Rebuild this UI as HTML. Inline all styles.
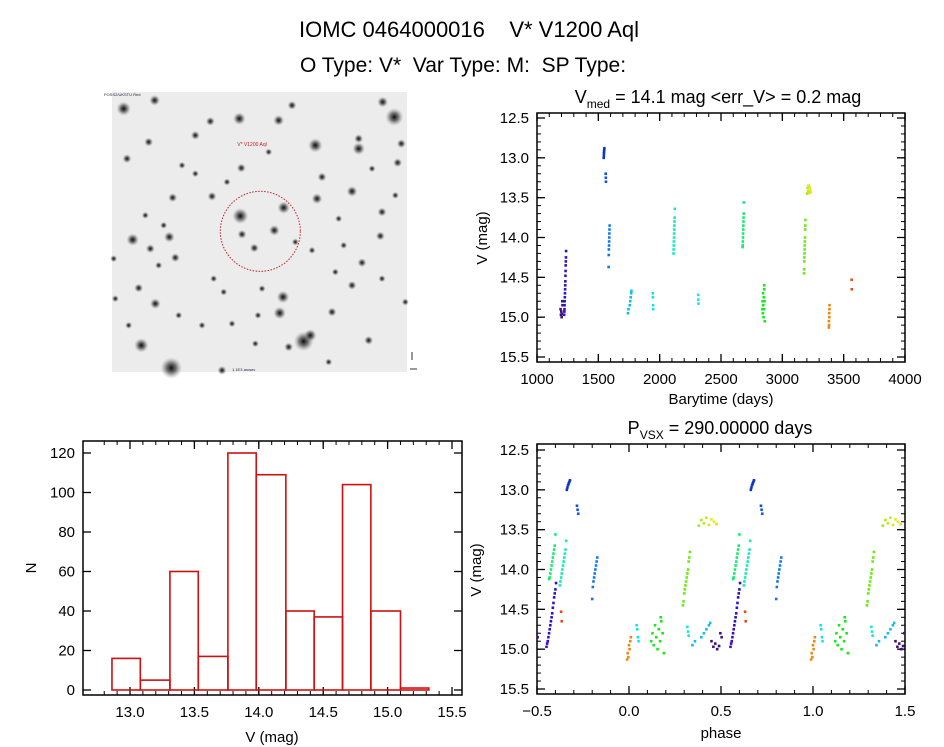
<!DOCTYPE html>
<html><head><meta charset="utf-8"><style>
html,body{margin:0;padding:0;background:#fff;}
svg{display:block;font-family:"Liberation Sans",sans-serif;}
</style></head><body>
<svg id="fig" width="944" height="747" viewBox="0 0 944 747">
<text x="469" y="37" font-size="22" text-anchor="middle" xml:space="preserve">IOMC 0464000016    V* V1200 Aql</text>
<text x="463" y="72" font-size="21" text-anchor="middle" xml:space="preserve">O Type: V*  Var Type: M:  SP Type:</text>
<g id="img"></g>
<g id="lc"></g>
<g id="hist"></g>
<g id="ph"></g>
</svg>
<script>
// ---- light curve data ----
const times = [1192,1195,1198,1201,1204,1206,1208,
 1222,1223,1224,1225,1226,1227,1228,1229,1230,1231,1232,1233,1234,1235,1236,1237,
 1544,1545,1546,1547,1548,1549,
 1560,1561,1562,
 1584,1585,1586,1587,1588,1589,1590,1591,1592,
 1742,1746,1756,1760,1764,1768,1770,
 1944,1945,1946,1947,
 2113,2114,2115,2116,2117,2118,2119,2120,2121,2122,2123,
 2314,2315,2316,
 2676,2677,2678,2679,2680,2681,2682,2683,2684,2685,2686,
 2837,2839,2841,2843,2845,2847,2849,2851,2853,2855,2857,2852,
 3177,3178,3179,3180,3181,3182,3183,3184,3185,3186,3187,3188,
 3202,3206,3210,3214,3218,3222,3226,3230,
 3379,3380,3381,3382,3383,3384,3385,
 3565,3566];
const mags = [14.9,14.97,14.93,15.0,14.96,14.8,14.85,
 14.97,14.93,14.9,14.85,14.8,14.75,14.7,14.65,14.6,14.55,14.48,14.42,14.35,14.3,14.25,14.17,
 13.0,12.97,12.94,12.92,12.9,12.88,
 13.2,13.25,13.3,
 14.37,14.22,14.15,14.1,14.05,14.0,13.95,13.9,13.85,
 14.95,14.9,14.85,14.8,14.75,14.7,14.67,
 14.7,14.75,14.85,14.9,
 14.2,14.15,14.1,14.05,14.0,13.95,13.9,13.85,13.8,13.75,13.64,
 14.72,14.78,14.83,
 14.12,14.1,14.05,14.0,13.95,13.9,13.85,13.8,13.75,13.7,13.56,
 14.9,14.8,14.95,14.7,14.85,15.0,14.75,14.9,14.65,14.8,15.05,14.6,
 14.45,14.4,14.3,14.25,14.2,14.15,14.1,14.05,14.0,13.9,13.85,13.78,
 13.45,13.38,13.42,13.35,13.44,13.37,13.4,13.43,
 15.13,15.05,15.1,14.95,15.0,14.9,14.85,
 14.53,14.65];
const period = 290.0;
const epoch = 1352;
// ---- histogram data ----
const binEdges = [12.86,13.08,13.31,13.53,13.76,13.98,14.21,14.43,14.65,14.87,15.10,15.32];
const binCounts = [16,5,60,17,120,109,40,37,104,40,1];
const lcXTicks = [1000,1500,2000,2500,3000,3500,4000];
const magTicks = [12.5,13.0,13.5,14.0,14.5,15.0,15.5];
const phTicks = [-0.5,0.0,0.5,1.0,1.5];
const hXTicks = [13.0,13.5,14.0,14.5,15.0,15.5];
const hYTicks = [0,20,40,60,80,100,120];

const NS="http://www.w3.org/2000/svg";
function mk(tag,attrs,parent,txt){const e=document.createElementNS(NS,tag);for(const k in attrs)e.setAttribute(k,attrs[k]);if(txt!==undefined)e.textContent=txt;parent.appendChild(e);return e;}
function lin(d0,d1,r0,r1){return v=>r0+(v-d0)/(d1-d0)*(r1-r0);}

function colorFor(t){
  const stops=[[1190,265],[1237,250],[1550,228],[1592,210],[1770,192],[1947,182],[2123,165],[2316,175],[2686,145],[2857,120],[3188,95],[3230,55],[3385,32],[3566,15]];
  if(t<=1210)return "hsl(265,75%,28%)";
  for(let i=1;i<stops.length;i++){if(t<=stops[i][0]){const a=stops[i-1],b=stops[i];const h=a[1]+(t-a[0])/(b[0]-a[0])*(b[1]-a[1]);const l=t<1560?42:50;return `hsl(${h},85%,${l}%)`;}}
  return "hsl(15,80%,45%)";
}

function axes(g,box,xs,ys,xt,yt,xmin,ymin,fmtx,fmty,name){
  const fr=mk('rect',{x:box.x0,y:box.y0,width:box.x1-box.x0,height:box.y1-box.y0,fill:'none',stroke:'#000','stroke-width':1.5},g);
  
  
  for(const v of xt){const x=xs(v);
    mk('line',{x1:x,x2:x,y1:box.y1,y2:box.y1-8,stroke:'#000','stroke-width':1.3},g);
    mk('line',{x1:x,x2:x,y1:box.y0,y2:box.y0+8,stroke:'#000','stroke-width':1.3},g);
    const t=mk('text',{x:x,y:box.y1+22,'font-size':15,'text-anchor':'middle'},g,fmtx(v));
    
    }
  for(const v of xmin){const x=xs(v);
    mk('line',{x1:x,x2:x,y1:box.y1,y2:box.y1-4,stroke:'#000'},g);
    mk('line',{x1:x,x2:x,y1:box.y0,y2:box.y0+4,stroke:'#000'},g);}
  for(const v of yt){const y=ys(v);
    mk('line',{x1:box.x0,x2:box.x0+8,y1:y,y2:y,stroke:'#000','stroke-width':1.3},g);
    mk('line',{x1:box.x1,x2:box.x1-8,y1:y,y2:y,stroke:'#000','stroke-width':1.3},g);
    const t=mk('text',{x:box.x0-8,y:y+5,'font-size':15,'text-anchor':'end'},g,fmty(v));
    
    }
  for(const v of ymin){const y=ys(v);
    mk('line',{x1:box.x0,x2:box.x0+4,y1:y,y2:y,stroke:'#000'},g);
    mk('line',{x1:box.x1,x2:box.x1-4,y1:y,y2:y,stroke:'#000'},g);}
}
function range(a,b,s){const r=[];for(let v=a;v<=b+1e-9;v+=s)r.push(+v.toFixed(4));return r;}

// ---- light curve ----
(function(){
  const g=document.getElementById('lc');
  const box={x0:537,x1:905,y0:113,y1:362};
  const xs=lin(1000,4000,537,905), ys=lin(12.5,15.5,118,357);
  axes(g,box,xs,ys,lcXTicks,magTicks,range(1000,4000,100),range(12.5,15.5,0.1),v=>v,v=>v.toFixed(1),'lc');
  for(let i=0;i<times.length;i++){
    const p=mk('rect',{x:xs(times[i])-1.3,y:ys(mags[i])-1.3,width:2.6,height:2.6,fill:colorFor(times[i])},g);
    
    
  }
  const t=mk('text',{x:718,y:103,'font-size':18,'text-anchor':'middle'},g);
  
  
  t.innerHTML='V<tspan font-size="12" dy="5">med</tspan><tspan dy="-5"> = 14.1 mag &lt;err_V&gt; = 0.2 mag</tspan>';
  const xl=mk('text',{x:721,y:404,'font-size':15,'text-anchor':'middle'},g,'Barytime (days)');
  
  
  const yl=mk('text',{x:0,y:0,'font-size':15,'text-anchor':'middle',transform:'translate(487,238) rotate(-90)'},g,'V (mag)');
  
  
})();

// ---- phase ----
(function(){
  const g=document.getElementById('ph');
  const box={x0:537,x1:905,y0:444,y1:694};
  const xs=lin(-0.5,1.5,537,905), ys=lin(12.5,15.5,450,689);
  axes(g,box,xs,ys,phTicks,magTicks,range(-0.5,1.5,0.1),range(12.5,15.5,0.1),v=>v.toFixed(1).replace('-','\u2212'),v=>v.toFixed(1),'ph');
  for(let i=0;i<times.length;i++){
    let ph=((times[i]-epoch)/period)%1; if(ph<0)ph+=1;
    for(const s of [-1,0,1]){const p2=ph+s; if(p2<-0.5||p2>1.5)continue;
      const p=mk('rect',{x:xs(p2)-1.3,y:ys(mags[i])-1.3,width:2.6,height:2.6,fill:colorFor(times[i])},g);
      
      }
  }
  const t=mk('text',{x:720,y:434,'font-size':18,'text-anchor':'middle'},g);
  
  
  t.innerHTML='P<tspan font-size="12" dy="5">VSX</tspan><tspan dy="-5"> = 290.00000 days</tspan>';
  const xl=mk('text',{x:721,y:738,'font-size':15,'text-anchor':'middle'},g,'phase');
  
  
  const yl=mk('text',{x:0,y:0,'font-size':15,'text-anchor':'middle',transform:'translate(481,570) rotate(-90)'},g,'V (mag)');
  
  
})();

// ---- histogram ----
(function(){
  const g=document.getElementById('hist');
  const box={x0:83,x1:462,y0:441,y1:695};
  const xs=lin(13.0,15.5,130,452), ys=lin(0,120,690,453);
  axes(g,box,xs,ys,hXTicks,hYTicks,range(12.8,15.5,0.1),[],v=>v.toFixed(1),v=>v,'hist');
  for(let i=0;i<binCounts.length;i++){
    const x0=xs(binEdges[i]),x1=xs(binEdges[i+1]);
    const r=mk('rect',{x:x0,y:ys(binCounts[i]),width:x1-x0,height:ys(0)-ys(binCounts[i]),fill:'none',stroke:'#d01010','stroke-width':1.6},g);
    
    
  }
  const xl=mk('text',{x:272,y:742,'font-size':15,'text-anchor':'middle'},g,'V (mag)');
  
  
  const yl=mk('text',{x:0,y:0,'font-size':15,'text-anchor':'middle',transform:'translate(36,568) rotate(-90)'},g,'N');
  
  
})();

// ---- sky image ----
(function(){
  const g=document.getElementById('img');
  const X0=112,Y0=92;
  const defs=mk('defs',{},g);
  const grad=mk('radialGradient',{id:'star'},defs);
  mk('stop',{offset:'0%','stop-color':'#000','stop-opacity':0.95},grad);
  mk('stop',{offset:'45%','stop-color':'#222','stop-opacity':0.6},grad);
  mk('stop',{offset:'100%','stop-color':'#888','stop-opacity':0},grad);
  const bg=mk('rect',{x:X0,y:Y0,width:295,height:280,fill:'#ececec'},g);
  
  
  const stars=[[85,70,8],[178,45,6],[432,100,7],[550,105,6],[590,60,5],[862,50,6],[897,95,10],[660,180,8],[790,190,7],[790,160,5],[918,175,5],[907,232,5],[95,220,5],[160,170,5],[300,150,5],[345,108,5],[438,248,5],[300,265,4],[680,275,5],[770,318,6],[665,340,6],[565,367,7],[435,392,9],[537,435,6],[440,447,5],[477,488,5],[232,337,5],[222,455,6],[112,463,7],[165,490,5],[240,517,5],[190,540,4],[350,333,5],[860,380,5],[855,452,5],[800,532,5],[720,560,4],[770,600,5],[563,635,7],[553,683,7],[130,608,5],[180,655,6],[138,780,8],[228,848,12],[625,768,11],[645,750,7],[580,785,5],[820,765,5],[355,580,4],[410,715,4],[488,690,4],[710,680,5],[930,650,4],[60,640,4],[100,720,4],[320,720,4],[480,775,4],[700,830,4],[380,855,5],[860,580,4],[650,495,4],[745,480,4],[600,470,4],[385,620,4],[250,690,4],[205,420,4],[55,520,4],[500,610,4],[830,250,4],[730,400,4],[900,330,4],[520,200,4],[260,240,4],[395,290,4],[150,390,4]];
  for(const s of stars){
    const c=mk('circle',{cx:X0+s[0]/3-50/3,cy:Y0+s[1]/3-20/3,r:s[2]*0.9,fill:'url(#star)'},g);
    
    
  }
  const circ=mk('circle',{cx:X0+(495-50)/3,cy:Y0+(438-20)/3,r:40,fill:'none',stroke:'#c02020','stroke-width':1,'stroke-dasharray':'1.5,1.5'},g);
  
  
  const lab=mk('text',{x:X0+(470-50)/3,y:Y0+(182-20)/3,'font-size':5,fill:'#c02020','text-anchor':'middle'},g,'V* V1200 Aql');
  
  
  const t1=mk('text',{x:X0-8,y:Y0+4,'font-size':4,fill:'#224'},g,'POSS2/UKSTU Red');
  
  
  const t2=mk('text',{x:X0+120,y:Y0+279,'font-size':4,fill:'#224'},g,'1.1E3 arcsec');
  
  
  mk('line',{x1:X0+298,x2:X0+305,y1:Y0+277,y2:Y0+277,stroke:'#333','stroke-width':1},g);
  mk('line',{x1:X0+300,x2:X0+300,y1:Y0+260,y2:Y0+268,stroke:'#333','stroke-width':1},g);
})();
</script>
</body></html>
